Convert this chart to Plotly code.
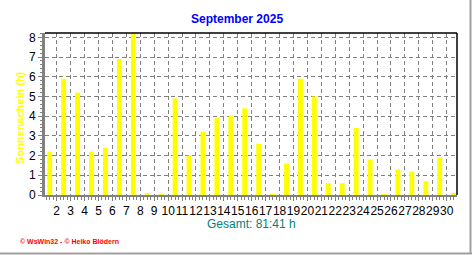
import plotly.graph_objects as go

# ---- data ----
days = list(range(1, 31))
sunshine_h = [2.2, 5.9, 5.2, 2.2, 2.4, 6.9, 8.2, 0.1, 0.03, 4.9,
              2.0, 3.2, 3.9, 4.0, 4.4, 2.6, 0.03, 1.6, 5.9, 5.0,
              0.6, 0.6, 3.4, 1.8, 0.03, 1.3, 1.2, 0.7, 1.9, 0.1]
tick_labels = [str(d) for d in range(2, 31)]
tick_positions = [d - 0.5 for d in range(2, 31)]
y_ticks = list(range(0, 9))

title_text = "September 2025"
y_title = "Sonnenschein (h)"
total_text = "Gesamt: 81:41 h"
footer_text = "© WsWin32 - © Heiko Blödern"

# ---- layout geometry (pixels) ----
W, H = 472, 255
ML, MR, MT, MB = 45, 15, 33, 60
PW, PH = W - ML - MR, H - MT - MB


def px_x(px):
    return (px - ML) / PW


def px_y(py):
    return (H - MB - py) / PH


FONT = "Arial, Liberation Sans, sans-serif"

fig = go.Figure()
fig.add_trace(go.Bar(
    x=days, y=sunshine_h, width=0.35,
    marker=dict(color="#FFFF00", line=dict(width=0)),
    hoverinfo="skip",
))

fig.update_layout(
    width=W, height=H,
    margin=dict(l=ML, r=MR, t=MT, b=MB, pad=0),
    paper_bgcolor="white", plot_bgcolor="white",
    showlegend=False,
    font=dict(family=FONT, size=12, color="black"),
    xaxis=dict(
        range=[0.66, 30.24],
        tickmode="array", tickvals=tick_positions, ticktext=tick_labels,
        tickangle=0,
        ticks="outside", ticklen=4, tickcolor="#808080", tickwidth=1,
        showline=True, linecolor="#808080", linewidth=2,
        showgrid=True, gridcolor="#808080", griddash="4px,3px", gridwidth=1,
        zeroline=False,
        minor=dict(tickmode="linear", tick0=0.5, dtick=0.25, ticks="outside",
                   ticklen=3, tickcolor="#808080", showgrid=False),
        tickfont=dict(family=FONT, size=12, color="black"),
        fixedrange=True,
    ),
    yaxis=dict(
        range=[0, 8.22],
        tickmode="array", tickvals=y_ticks,
        ticks="outside", ticklen=4, tickcolor="#808080", tickwidth=1,
        showline=True, linecolor="#808080", linewidth=3,
        showgrid=True, gridcolor="#808080", griddash="4px,3px", gridwidth=1,
        zeroline=False,
        minor=dict(tickmode="linear", tick0=0, dtick=0.2, ticks="outside",
                   ticklen=2, tickcolor="#808080", showgrid=False),
        tickfont=dict(family=FONT, size=12, color="black"),
        fixedrange=True,
    ),
    shapes=[
        dict(type="line", xref="paper", yref="paper", x0=0, x1=1, y0=1, y1=1,
             line=dict(color="black", width=1.5), layer="above"),
        dict(type="line", xref="paper", yref="paper", x0=1, x1=1, y0=0, y1=1,
             line=dict(color="black", width=1.5), layer="above"),
        dict(type="line", xref="paper", yref="paper",
             x0=px_x(470.5), x1=px_x(470.5), y0=px_y(0), y1=px_y(254),
             line=dict(color="#a0a0a0", width=2), layer="above"),
        dict(type="line", xref="paper", yref="paper",
             x0=px_x(0), x1=px_x(472), y0=px_y(253.5), y1=px_y(253.5),
             line=dict(color="#a0a0a0", width=2), layer="above"),
    ],
    annotations=[
        dict(text=f"<b>{title_text}</b>", xref="paper", yref="paper",
             x=px_x(237), y=px_y(19), xanchor="center", yanchor="middle",
             showarrow=False, font=dict(family=FONT, size=12, color="#0000FF")),
        dict(text=f"<b>{y_title}</b>", xref="paper", yref="paper",
             x=px_x(20), y=px_y(118), xanchor="center", yanchor="middle",
             textangle=-90, showarrow=False,
             font=dict(family=FONT, size=11, color="#FFFF00")),
        dict(text=total_text, xref="paper", yref="paper",
             x=px_x(251), y=px_y(224), xanchor="center", yanchor="middle",
             showarrow=False, font=dict(family=FONT, size=12, color="#008080")),
        dict(text=f"<b>{footer_text}</b>", xref="paper", yref="paper",
             x=px_x(18), y=px_y(241), xanchor="left", yanchor="middle",
             showarrow=False, font=dict(family=FONT, size=7, color="#FF0000")),
    ],
)

fig.write_html("out.html", config={"displayModeBar": False})
